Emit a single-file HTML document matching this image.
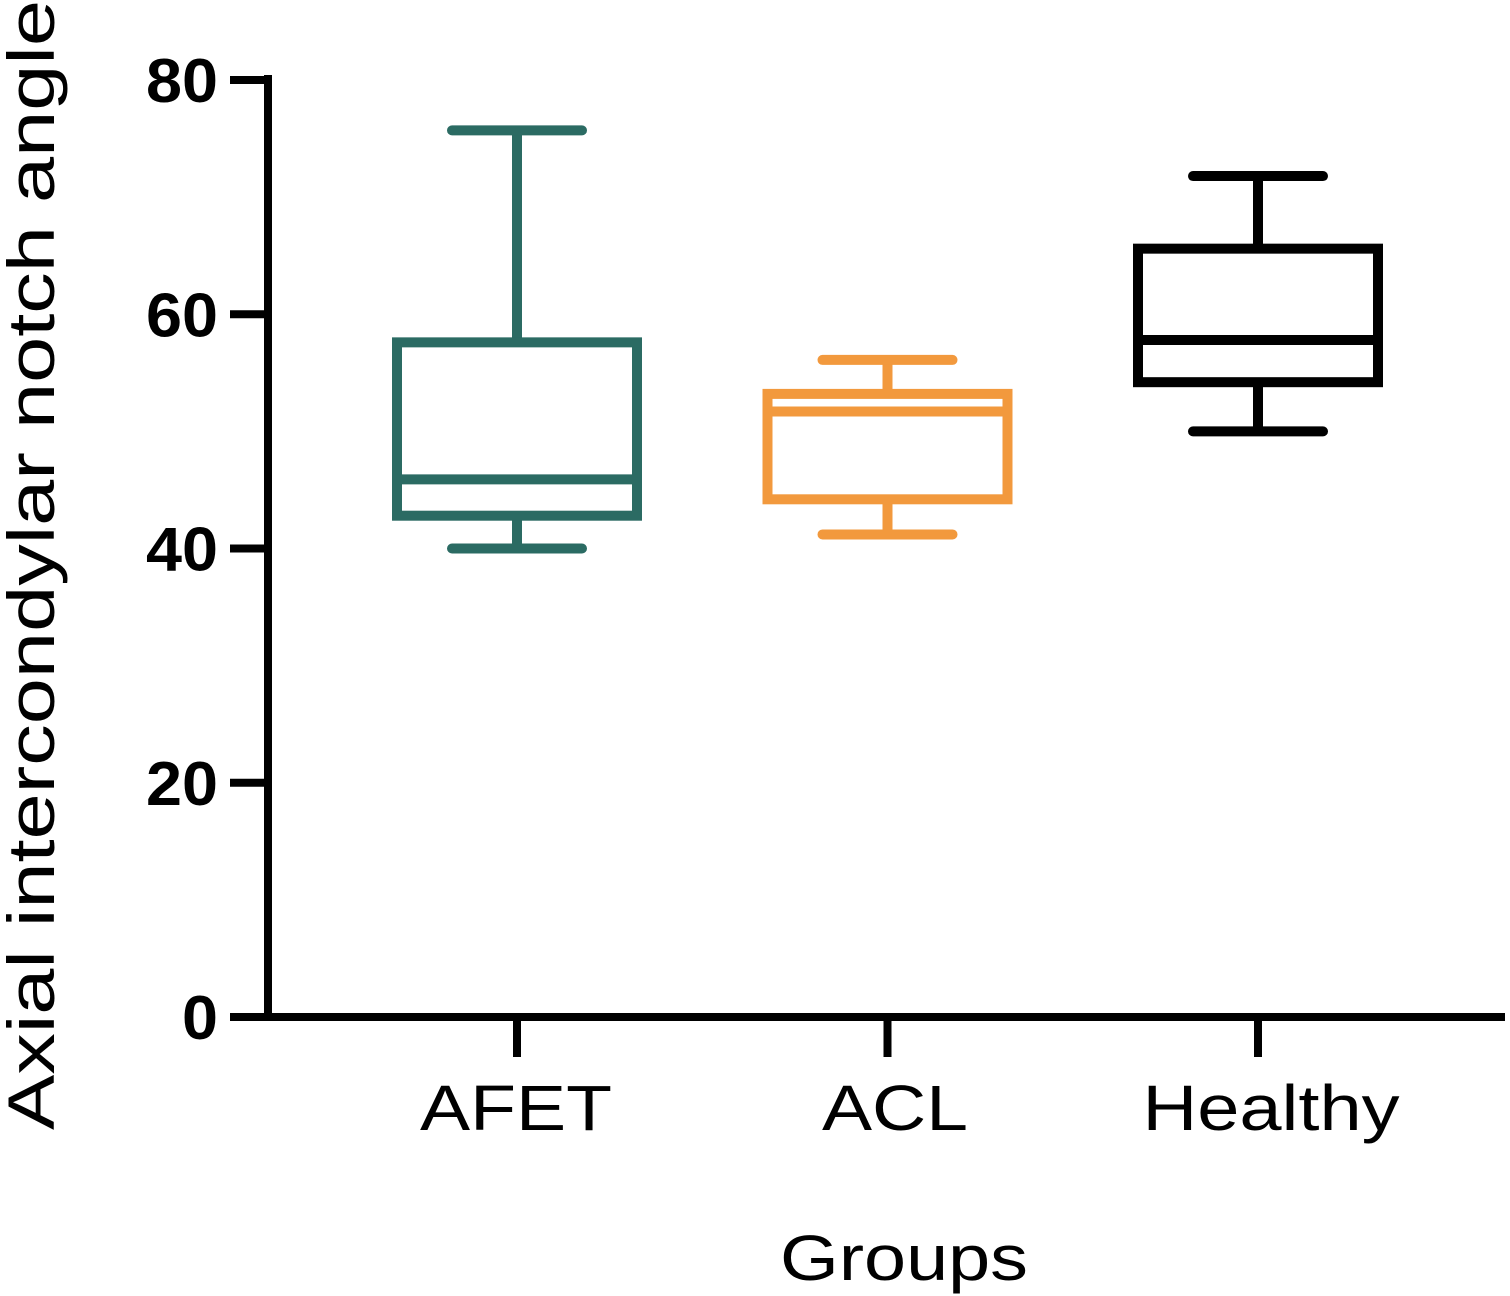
<!DOCTYPE html>
<html><head><meta charset="utf-8">
<style>
html,body{margin:0;padding:0;background:#fff;}
svg{display:block;}
text{font-family:"Liberation Sans",Arial,sans-serif;}
</style></head>
<body>
<svg id="chart" width="1510" height="1296" viewBox="0 0 1510 1296" xmlns="http://www.w3.org/2000/svg">
<g id="axes"></g>
<g id="boxes"></g>
<text x="780" y="1280" font-size="64" textLength="248" lengthAdjust="spacingAndGlyphs" fill="#000">Groups</text>
<text transform="translate(54,1130) rotate(-90)" font-size="66" textLength="1130" lengthAdjust="spacingAndGlyphs" fill="#000">Axial intercondylar notch angle</text>
</svg>
<script>
const categories = ["AFET","ACL","Healthy"];
const mins = [40,41.2,50];
const q1s = [42.8,44.2,54.2];
const medians = [45.9,51.7,57.8];
const q3s = [57.6,53.2,65.6];
const maxs = [75.7,56.1,71.8];
const colors = ["#2b6b63","#f2993d","#000000"];
const yTicks = [0,20,40,60,80];
const labelWidths = [192,146,257];
const labelCenters = [516,895,1271];

const NS="http://www.w3.org/2000/svg";
const y = v => 1017 - v*(1017-80)/80;
const x = i => 517 + i*370.5;
const axes=document.getElementById('axes'), boxes=document.getElementById('boxes');
function mk(tag,attrs,parent){const e=document.createElementNS(NS,tag);for(const k in attrs)e.setAttribute(k,attrs[k]);parent.appendChild(e);return e;}

let yl=mk('line',{x1:268,y1:75,x2:268,y2:1017,stroke:'#000','stroke-width':8},axes);


let xl=mk('line',{x1:264,y1:1017,x2:1505,y2:1017,stroke:'#000','stroke-width':8},axes);


yTicks.forEach(t=>{
  let tk=mk('line',{x1:230,y1:y(t),x2:268,y2:y(t),stroke:'#000','stroke-width':8},axes);
  
  
  const s=String(t);
  let tl=mk('text',{x:218-36*s.length,y:y(t)+22,'font-size':62,'font-weight':'bold',textLength:36*s.length,lengthAdjust:'spacingAndGlyphs',fill:'#000'},axes);
  tl.textContent=s;
  
  
});
categories.forEach((c,i)=>{
  let tk=mk('line',{x1:x(i),y1:1017,x2:x(i),y2:1057,stroke:'#000','stroke-width':8},axes);
  
  
  let tl=mk('text',{x:labelCenters[i]-labelWidths[i]/2,y:1130,'font-size':64,textLength:labelWidths[i],lengthAdjust:'spacingAndGlyphs',fill:'#000'},axes);
  tl.textContent=c;
  
  
  const g=mk('g',{stroke:colors[i],'stroke-width':10,fill:'none'},boxes);
  
  
  const cx=x(i), hw=120, cw=65;
  mk('line',{x1:cx,y1:y(maxs[i]),x2:cx,y2:y(q3s[i])},g);
  mk('line',{x1:cx,y1:y(q1s[i]),x2:cx,y2:y(mins[i])},g);
  mk('line',{x1:cx-cw,y1:y(maxs[i]),x2:cx+cw,y2:y(maxs[i]),'stroke-linecap':'round'},g);
  mk('line',{x1:cx-cw,y1:y(mins[i]),x2:cx+cw,y2:y(mins[i]),'stroke-linecap':'round'},g);
  mk('rect',{x:cx-hw,y:y(q3s[i]),width:2*hw,height:y(q1s[i])-y(q3s[i])},g);
  mk('line',{x1:cx-hw,y1:y(medians[i]),x2:cx+hw,y2:y(medians[i])},g);
});
</script>
</body></html>
